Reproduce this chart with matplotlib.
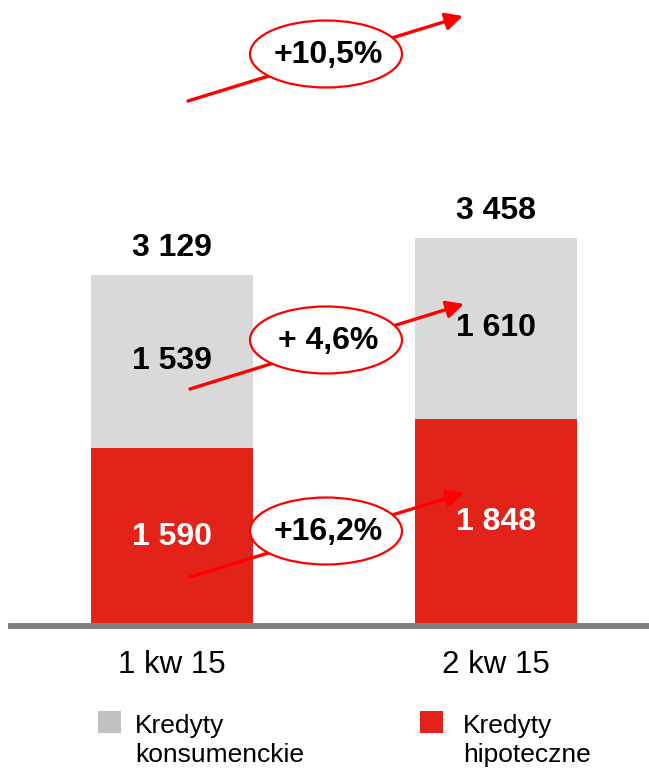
import matplotlib.pyplot as plt
from matplotlib.patches import Ellipse, Rectangle

plt.rcParams['font.family'] = ['Liberation Sans', 'DejaVu Sans']

# data
quarters = ["1 kw 15", "2 kw 15"]
hipoteczne = [1590, 1848]
konsumenckie = [1539, 1610]
series_names = [["Kredyty", "konsumenckie"], ["Kredyty", "hipoteczne"]]
growth_labels = ["+10,5%", "+ 4,6%", "+16,2%"]

RED = "#E2231A"
GRAY_BAR = "#D9D9D9"
GRAY_LEG = "#C0C0C0"
ARROW = "#FF0000"

W, H = 649, 769
fig = plt.figure(figsize=(W / 100, H / 100), dpi=100)
ax = fig.add_axes([0, 0, 1, 1])

px_per_unit = 0.1122
base_px = 626  # baseline from top
ax.set_ylim(-(H - base_px) / px_per_unit, base_px / px_per_unit)
ax.set_xlim(-172 / 324, (W - 172) / 324)
ax.axis("off")


def fmt(v):
    return f"{v:,}".replace(",", " ")


x = list(range(len(quarters)))
ax.bar(x, hipoteczne, width=0.5, color=RED, zorder=2)
ax.bar(x, konsumenckie, width=0.5, bottom=hipoteczne, color=GRAY_BAR, zorder=2)
ax.axhline(0, xmin=11 / W, xmax=1, color="#808080", lw=4.3, zorder=3)

for i in x:
    h, k = hipoteczne[i], konsumenckie[i]
    ax.text(i, h / 2, fmt(h), ha="center", va="center", color="white",
            fontsize=23, fontweight="bold", zorder=4)
    ax.text(i, h + k / 2, fmt(k), ha="center", va="center", color="black",
            fontsize=23, fontweight="bold", zorder=4)
    ax.text(i, h + k + 27 / px_per_unit, fmt(h + k), ha="center", va="center",
            color="black", fontsize=23, fontweight="bold", zorder=4)
    ax.text(i, -39 / px_per_unit, quarters[i], ha="center", va="center",
            fontsize=22.5, color="black")


def fx(px):
    return px / W


def fy(py):
    return 1 - py / H


# growth arrows with ellipses (pixel positions, from top-left)
arrows = [((188, 101), (463, 16), (326, 54)),
          ((190, 389), (464, 304), (326, 340)),
          ((190, 577), (464, 493), (326, 531))]
for (start, tip, centre), lab in zip(arrows, growth_labels):
    ax.annotate("", xy=(tip[0], H - tip[1]), xytext=(start[0], H - start[1]),
                xycoords="figure pixels", textcoords="figure pixels",
                arrowprops=dict(arrowstyle="-|>", color=ARROW, lw=2.4,
                                mutation_scale=26, shrinkA=0, shrinkB=0),
                zorder=5)
    fig.add_artist(Ellipse((fx(centre[0]), fy(centre[1])), 152 / W, 67 / H,
                           transform=fig.transFigure, facecolor="white",
                           edgecolor=ARROW, lw=1.6, zorder=6))
    fig.text(fx(centre[0] + 2), fy(centre[1] + 1), lab, ha="center", va="center",
             fontsize=23, fontweight="bold", zorder=7)

# legend
for (sx, tx), lines, col in zip([(98, 135), (420, 463)], series_names, [GRAY_LEG, RED]):
    fig.add_artist(Rectangle((fx(sx), fy(733)), 23 / W, 22 / H,
                             transform=fig.transFigure, facecolor=col,
                             edgecolor="none"))
    for j, line in enumerate(lines):
        fig.text(fx(tx), fy(733 + 29 * j), line, ha="left", va="baseline",
                 fontsize=19)

fig.savefig("out.png", dpi=100)
